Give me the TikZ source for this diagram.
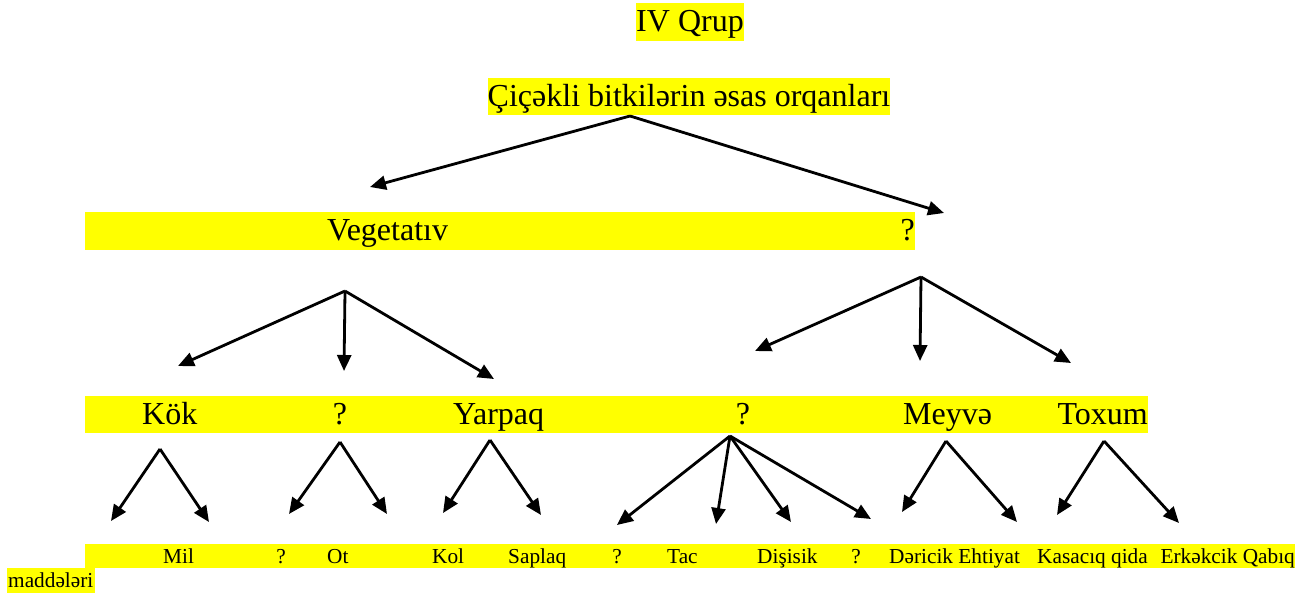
\documentclass[tikz,border=0pt]{standalone}
\usepackage{fontspec}
\setmainfont{Liberation Serif}
\usetikzlibrary{arrows.meta}
\definecolor{hl}{RGB}{255,255,0}
\tikzset{
  big/.style={font=\fontsize{32}{36}\selectfont, inner sep=0pt, anchor=base},
  small/.style={font=\fontsize{21.3}{24}\selectfont, inner sep=0pt, anchor=base},
  band/.style={fill=hl, draw=none},
  arr/.style={line width=2.8pt, -{Triangle[length=16pt,width=14pt]}}
}
\begin{document}
\begin{tikzpicture}[x=1pt,y=-1pt]
\useasboundingbox (0,0) rectangle (1308,595);
% highlight bands
\fill[band] (636,3) rectangle (744,41);
\fill[band] (488,78) rectangle (890,115);
\fill[band] (85,212) rectangle (915,250);
\fill[band] (85,396) rectangle (1148,433);
\fill[band] (85,544) rectangle (1295,568);
\fill[band] (7,568) rectangle (95,593);
% titles
\node[big] (title) at (690,31.5) {IV Qrup};
\node[big] (root) at (689,106.5) {Çiçəkli bitkilərin əsas orqanları};
% row 2
\node[big, anchor=base west] (veg) at (327,240.5) {Vegetatıv};
\node[big, anchor=base east] (gen) at (915,240.5) {?};
% row 3
\node[big, anchor=base west] (kok) at (142,424.5) {Kök};
\node[big] (q1) at (340,424.5) {?};
\node[big, anchor=base west] (yarpaq) at (453,424.5) {Yarpaq};
\node[big] (q2) at (743,424.5) {?};
\node[big, anchor=base west] (meyve) at (903,424.5) {Meyvə};
\node[big, anchor=base east] (toxum) at (1148,424.5) {Toxum};
% row 4
\node[small, anchor=base west] (mil) at (163,563) {Mil};
\node[small] (q3) at (281,563) {?};
\node[small, anchor=base west] (ot) at (327,563) {Ot};
\node[small, anchor=base west] (kol) at (432,563) {Kol};
\node[small, anchor=base west] (saplaq) at (508,563) {Saplaq};
\node[small] (q4) at (617,563) {?};
\node[small, anchor=base west] (tac) at (667,563) {Tac};
\node[small, anchor=base west] (disisik) at (757,563) {Dişisik};
\node[small] (q5) at (856,563) {?};
\node[small, anchor=base west] (dericik) at (889,563) {Dəricik Ehtiyat};
\node[small, anchor=base west] (kasaciq) at (1037,563) {Kasacıq qida};
\node[small, anchor=base east] (erkekcik) at (1295,563) {Erkəkcik Qabıq};
\node[small, anchor=base west] (maddeleri) at (8,587) {maddələri};
% apex and tip coordinates
\coordinate (a0) at (630,116);
\coordinate (t0l) at (370,187);
\coordinate (t0r) at (944,213);
\coordinate (a1) at (345,291);
\coordinate (t1a) at (178,366);
\coordinate (t1b) at (344,371);
\coordinate (t1c) at (494,379);
\coordinate (a2) at (921,277);
\coordinate (t2a) at (755,351);
\coordinate (t2b) at (920,361);
\coordinate (t2c) at (1071,363);
\coordinate (a3) at (160,449);
\coordinate (t3a) at (111,521);
\coordinate (t3b) at (209,522);
\coordinate (a4) at (340,442);
\coordinate (t4a) at (289,514);
\coordinate (t4b) at (387,514);
\coordinate (a5) at (490,440);
\coordinate (t5a) at (443,513);
\coordinate (t5b) at (541,515);
\coordinate (a6) at (730,436);
\coordinate (t6a) at (617,525);
\coordinate (t6b) at (716,524);
\coordinate (t6c) at (791,522);
\coordinate (t6d) at (871,519);
\coordinate (a7) at (946,441);
\coordinate (t7a) at (902,512);
\coordinate (t7b) at (1017,522);
\coordinate (a8) at (1104,441);
\coordinate (t8a) at (1057,515);
\coordinate (t8b) at (1179,523);
% arrows
\draw[arr] (a0) -- (t0l);
\draw[arr] (a0) -- (t0r);
\draw[arr] (a1) -- (t1a);
\draw[arr] (a1) -- (t1b);
\draw[arr] (a1) -- (t1c);
\draw[arr] (a2) -- (t2a);
\draw[arr] (a2) -- (t2b);
\draw[arr] (a2) -- (t2c);
\draw[arr] (a3) -- (t3a);
\draw[arr] (a3) -- (t3b);
\draw[arr] (a4) -- (t4a);
\draw[arr] (a4) -- (t4b);
\draw[arr] (a5) -- (t5a);
\draw[arr] (a5) -- (t5b);
\draw[arr] (a6) -- (t6a);
\draw[arr] (a6) -- (t6b);
\draw[arr] (a6) -- (t6c);
\draw[arr] (a6) -- (t6d);
\draw[arr] (a7) -- (t7a);
\draw[arr] (a7) -- (t7b);
\draw[arr] (a8) -- (t8a);
\draw[arr] (a8) -- (t8b);
\end{tikzpicture}
\end{document}
